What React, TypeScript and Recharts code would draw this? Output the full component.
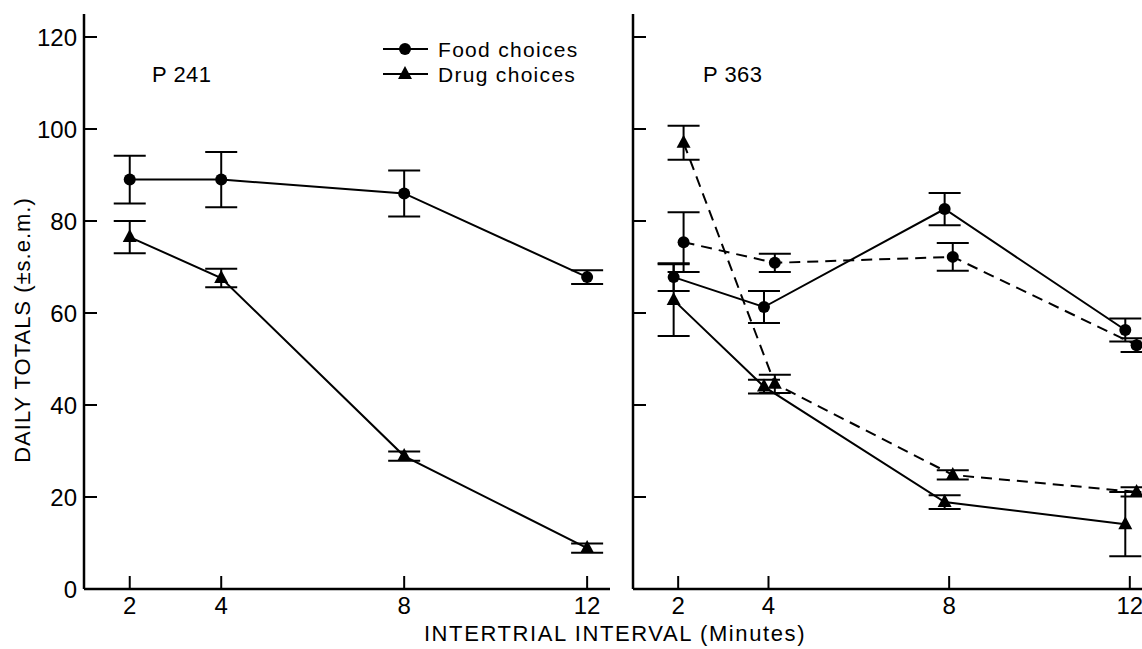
import { LineChart, Line, XAxis, YAxis, ErrorBar, Legend } from 'recharts';

const minutes = [2, 4, 8, 12];
const yTicks = [0, 20, 40, 60, 80, 100, 120];

// P 241
const p241FoodMean = [89, 89, 86, 67.8];
const p241FoodSem = [5.2, 6, 5, 1.5];
const p241DrugMean = [76.5, 67.6, 28.9, 8.9];
const p241DrugSem = [3.5, 2, 1, 1];

// P 363, solid lines (points drawn slightly left of the tick)
const p363SolidX = [1.9, 3.9, 7.9, 11.9];
const p363FoodMean = [67.8, 61.3, 82.6, 56.3];
const p363FoodSem = [3, 3.5, 3.5, 2.5];
const p363DrugMean = [62.8, 44, 18.9, 14.1];
const p363DrugSem = [7.8, 1.5, 1.5, 7];

// P 363, dashed lines (points drawn slightly right of the tick)
const p363DashX = [2.12, 4.14, 8.08, 12.15];
const p363FoodDashMean = [75.4, 70.9, 72.2, 53];
const p363FoodDashSem = [6.5, 2, 3, 1.5];
const p363DrugDashMean = [97, 44.6, 24.8, 21.1];
const p363DrugDashSem = [3.7, 2, 1, 1];

const toPoints = (xs: number[], ys: number[], es: number[]) =>
  xs.map((x, i) => ({ x, y: ys[i], err: es[i] }));

const FONT = '"Liberation Sans", Arial, sans-serif';
const INK = '#000';

const CircleDot = (props: any) => {
  const { cx, cy, index } = props;
  if (cx == null || cy == null) return null;
  return <circle key={`c-${index}`} cx={cx} cy={cy} r={6} fill={INK} />;
};

const TriangleDot = (props: any) => {
  const { cx, cy, index } = props;
  if (cx == null || cy == null) return null;
  return (
    <path
      key={`t-${index}`}
      d={`M${cx},${cy - 8} L${cx + 7},${cy + 5} L${cx - 7},${cy + 5} Z`}
      fill={INK}
    />
  );
};

const LegendBox = () => (
  <svg width={240} height={60}>
    <line x1={0} y1={12} x2={45} y2={12} stroke={INK} strokeWidth={2} />
    <circle cx={22} cy={12} r={6} fill={INK} />
    <text x={55} y={20} fontSize={21} fontFamily={FONT} letterSpacing={1.3} fill={INK}>
      Food choices
    </text>
    <line x1={0} y1={37} x2={45} y2={37} stroke={INK} strokeWidth={2} />
    <path d="M22,29 L29,42 L15,42 Z" fill={INK} />
    <text x={55} y={45} fontSize={21} fontFamily={FONT} letterSpacing={1.3} fill={INK}>
      Drug choices
    </text>
  </svg>
);

const tickStyle = { fill: INK, fontSize: 24, fontFamily: FONT };
const axisLine = { stroke: INK, strokeWidth: 2.5 };
const tickLine = { stroke: INK, strokeWidth: 2 };

const errBar = <ErrorBar dataKey="err" width={16} strokeWidth={2} stroke={INK} direction="y" />;

const App = () => {
  return (
    <div
      style={{
        position: 'fixed',
        left: 0,
        top: 0,
        width: 1142,
        height: 649,
        overflow: 'hidden',
        background: '#fff',
      }}
    >
      <div style={{ position: 'absolute', left: 0, top: 0 }}>
        <LineChart width={620} height={649} margin={{ top: 14, right: 10, left: 0, bottom: 0 }}>
          <XAxis
            type="number"
            dataKey="x"
            domain={[1, 12.5]}
            ticks={minutes}
            allowDataOverflow
            height={60}
            tick={tickStyle}
            tickSize={-13}
            tickMargin={21}
            axisLine={axisLine}
            tickLine={tickLine}
          />
          <YAxis
            type="number"
            domain={[0, 125]}
            ticks={yTicks}
            allowDataOverflow
            width={84}
            tick={tickStyle}
            tickSize={-13}
            tickMargin={20}
            axisLine={axisLine}
            tickLine={tickLine}
          />
          <Legend
            layout="vertical"
            align="center"
            verticalAlign="middle"
            content={() => <LegendBox />}
            wrapperStyle={{ position: 'absolute', left: 383, top: 37, width: 240 }}
          />
          <Line
            name="Food choices"
            data={toPoints(minutes, p241FoodMean, p241FoodSem)}
            dataKey="y"
            stroke={INK}
            strokeWidth={2}
            dot={CircleDot}
            isAnimationActive={false}
          >
            {errBar}
          </Line>
          <Line
            name="Drug choices"
            data={toPoints(minutes, p241DrugMean, p241DrugSem)}
            dataKey="y"
            stroke={INK}
            strokeWidth={2}
            dot={TriangleDot}
            isAnimationActive={false}
          >
            {errBar}
          </Line>
        </LineChart>
      </div>

      <div style={{ position: 'absolute', left: 560, top: 0 }}>
        <LineChart width={582} height={649} margin={{ top: 14, right: 0, left: 0, bottom: 0 }}>
          <XAxis
            type="number"
            dataKey="x"
            domain={[1, 12.27]}
            ticks={minutes}
            allowDataOverflow
            height={60}
            tick={tickStyle}
            tickSize={-13}
            tickMargin={21}
            axisLine={axisLine}
            tickLine={tickLine}
          />
          <YAxis
            type="number"
            domain={[0, 125]}
            ticks={yTicks}
            allowDataOverflow
            width={73}
            tick={tickStyle}
            tickFormatter={() => ''}
            tickSize={-13}
            tickMargin={20}
            axisLine={axisLine}
            tickLine={tickLine}
          />
          <Line
            data={toPoints(p363SolidX, p363FoodMean, p363FoodSem)}
            dataKey="y"
            stroke={INK}
            strokeWidth={2}
            dot={CircleDot}
            isAnimationActive={false}
          >
            {errBar}
          </Line>
          <Line
            data={toPoints(p363SolidX, p363DrugMean, p363DrugSem)}
            dataKey="y"
            stroke={INK}
            strokeWidth={2}
            dot={TriangleDot}
            isAnimationActive={false}
          >
            {errBar}
          </Line>
          <Line
            data={toPoints(p363DashX, p363FoodDashMean, p363FoodDashSem)}
            dataKey="y"
            stroke={INK}
            strokeWidth={2}
            strokeDasharray="11 7"
            dot={CircleDot}
            isAnimationActive={false}
          >
            {errBar}
          </Line>
          <Line
            data={toPoints(p363DashX, p363DrugDashMean, p363DrugDashSem)}
            dataKey="y"
            stroke={INK}
            strokeWidth={2}
            strokeDasharray="11 7"
            dot={TriangleDot}
            isAnimationActive={false}
          >
            {errBar}
          </Line>
        </LineChart>
      </div>

      <svg
        width={1142}
        height={649}
        style={{ position: 'absolute', left: 0, top: 0, pointerEvents: 'none' }}
      >
        <text x={152} y={82} fontSize={22} fontFamily={FONT} fill={INK} letterSpacing={0.5}>
          P 241
        </text>
        <text x={703} y={82} fontSize={22} fontFamily={FONT} fill={INK} letterSpacing={0.5}>
          P 363
        </text>
        <text
          x={615}
          y={641}
          fontSize={22}
          fontFamily={FONT}
          fill={INK}
          letterSpacing={1.6}
          textAnchor="middle"
        >
          INTERTRIAL INTERVAL  (Minutes)
        </text>
        <text
          transform="translate(30,330) rotate(-90)"
          fontSize={22}
          fontFamily={FONT}
          fill={INK}
          letterSpacing={1}
          textAnchor="middle"
        >
          DAILY TOTALS (±s.e.m.)
        </text>
      </svg>
    </div>
  );
};

export default App;
